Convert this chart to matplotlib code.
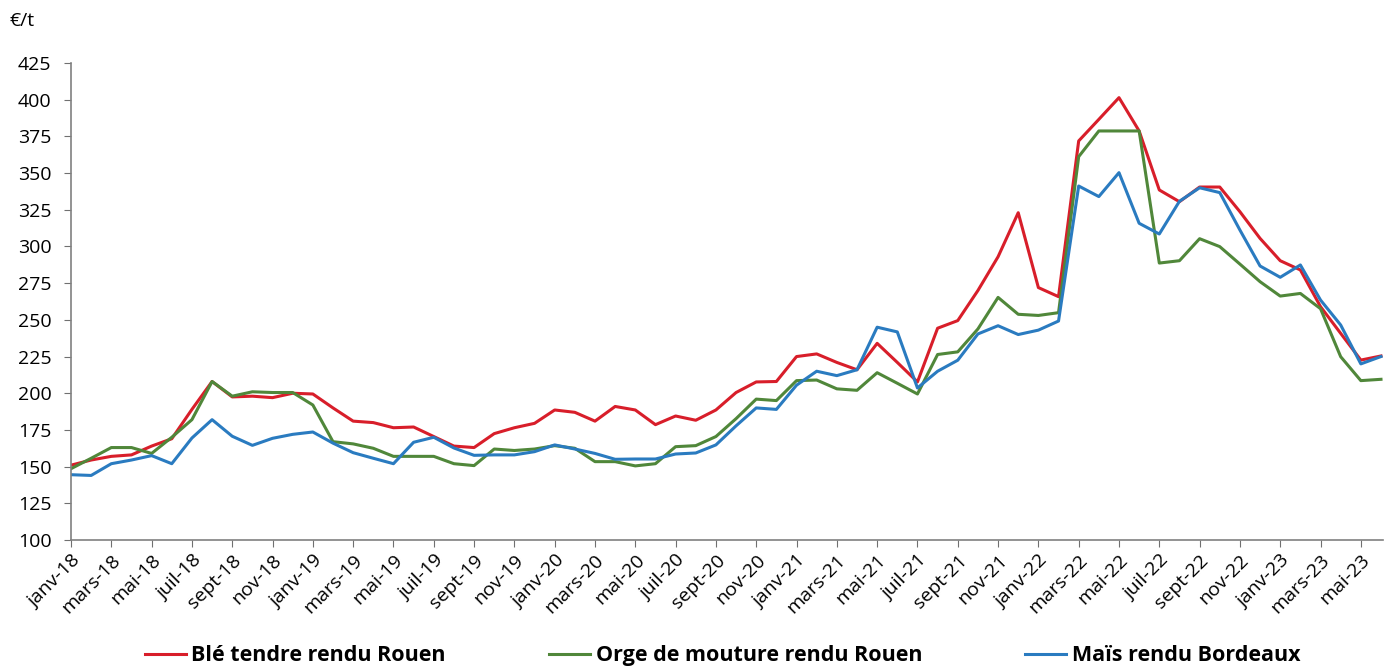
import matplotlib.pyplot as plt

plt.rcParams['font.family'] = ['Open Sans', 'DejaVu Sans']

month_names = ['janv', 'févr', 'mars', 'avr', 'mai', 'juin',
               'juil', 'août', 'sept', 'oct', 'nov', 'déc']
months = [f'{month_names[i % 12]}-{18 + i // 12}' for i in range(66)]

ble = [151, 154.5, 157, 158, 164, 169, 189, 208, 197.5, 198, 197, 200,
       199.5, 190, 181, 180, 176.5, 177, 170.5, 164, 163, 172.5, 176.5,
       179.5, 188.6, 187, 181, 191, 188.6, 178.6, 184.5, 181.6, 188.6,
       200.5, 207.7, 208, 225, 226.8, 221, 216, 234, 221, 207.7, 244.3,
       249.5, 270, 293, 323, 272, 265.8, 371.9, 386.6, 401.4, 378.7,
       338.5, 330.5, 340.5, 340.5, 323.7, 305.5, 290.3, 284, 259, 240.8,
       222.6, 225.4]
orge = [148.6, 155.7, 163, 163, 159, 170, 182, 208, 198, 201, 200.5,
        200.5, 192, 167, 165.5, 162.5, 157, 157, 157, 152, 150.7, 162,
        161, 162, 164.3, 162.5, 153.4, 153.4, 150.5, 152, 163.6, 164.3,
        170.5, 182.7, 196, 195, 208.6, 209, 203, 202, 214, 206.8, 199.5,
        226.4, 228.2, 243.8, 265.3, 253.8, 253, 254.9, 361.2, 378.7,
        378.7, 378.7, 288.7, 290.3, 305.3, 299.9, 288, 276, 266.2, 268,
        257.6, 224.9, 208.6, 209.5]
mais = [144.5, 144, 152, 154.5, 157.5, 152, 169.5, 182, 170.7, 164.5,
        169.3, 172, 173.6, 166, 159.5, 155.7, 152, 166.6, 170, 162.7,
        157.7, 158, 158, 160.2, 164.8, 162, 159, 155, 155.2, 155.2, 158.6,
        159.3, 164.8, 177.8, 190, 189, 205.5, 215, 212, 216, 245, 241.8,
        203.6, 215, 222.5, 240.4, 246, 240, 243, 249.2, 341.2, 334, 350.3,
        315.8, 308.5, 330.8, 340, 336.7, 311.2, 286.7, 279, 287.4, 263.5,
        246.5, 220, 225]

x = list(range(len(months)))

fig = plt.figure(figsize=(13.95, 6.71), dpi=100)
ax = fig.add_axes([0.0509, 0.1952, 0.9405, 0.7109])

ax.plot(x, ble, color='#d81e2a', lw=2.2, label='Blé tendre rendu Rouen')
ax.plot(x, orge, color='#50873a', lw=2.2, label='Orge de mouture rendu Rouen')
ax.plot(x, mais, color='#2a7bc0', lw=2.2, label='Maïs rendu Bordeaux')

ax.set_xlim(0, 65.1)
ax.set_ylim(100, 425)
ax.set_yticks(range(100, 426, 25))
ax.set_xticks(x[::2])
ax.set_xticklabels(months[::2], rotation=45, ha='right', rotation_mode='anchor')
ax.tick_params(axis='both', labelsize=14, color='#707070', length=5)
ax.tick_params(axis='x', pad=3)
ax.tick_params(axis='y', pad=9)

for side in ['top', 'right']:
    ax.spines[side].set_visible(False)
for side in ['left', 'bottom']:
    ax.spines[side].set_color('#808080')
    ax.spines[side].set_linewidth(1.2)

fig.text(0.007, 0.968, '€/t', fontsize=14, va='center')

fig.legend(loc='center', bbox_to_anchor=(0.518, 0.023), ncol=3, frameon=False,
           prop={'size': 15.5, 'weight': 'bold'}, handlelength=1.9,
           handletextpad=0.25, columnspacing=4.8)

plt.savefig('out.png', dpi=100)
